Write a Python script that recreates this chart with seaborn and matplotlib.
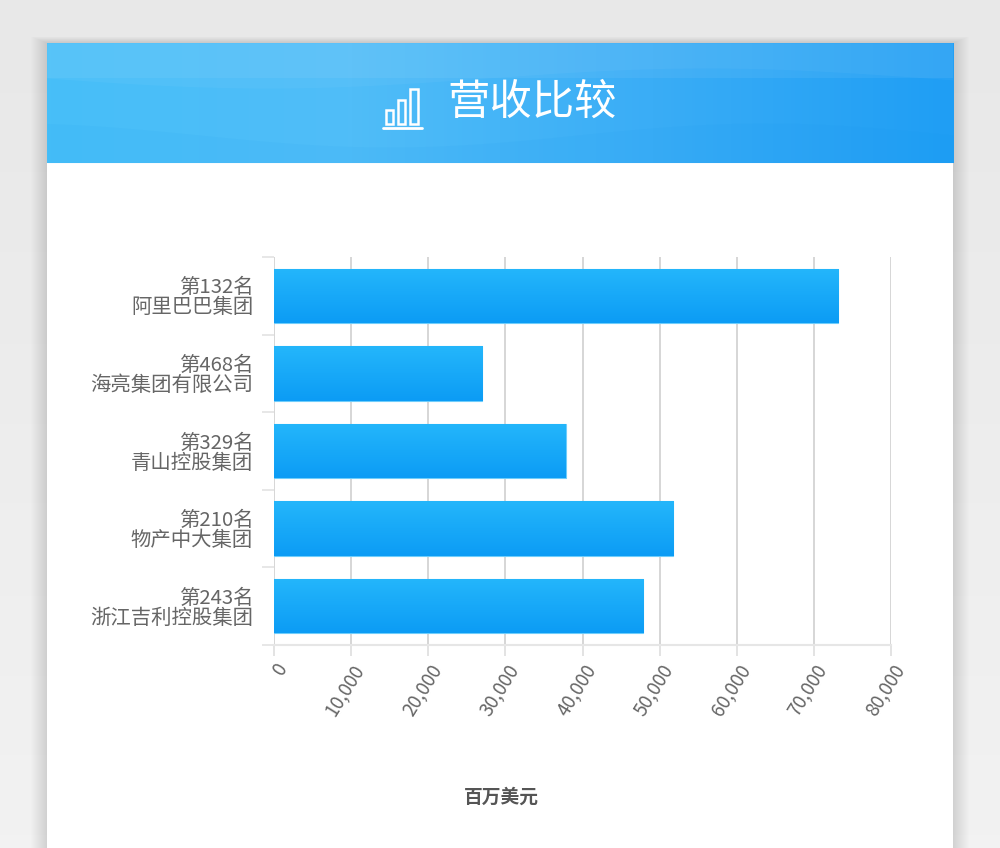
import numpy as np
import pandas as pd
import matplotlib
matplotlib.use("Agg")
import matplotlib.pyplot as plt
from matplotlib.patches import Rectangle
from matplotlib.colors import LinearSegmentedColormap
from matplotlib.ticker import FuncFormatter
import seaborn as sns

# data (revenue, million USD)
ranks = ["第132名", "第468名", "第329名", "第210名", "第243名"]
companies = ["阿里巴巴集团", "海亮集团有限公司", "青山控股集团", "物产中大集团", "浙江吉利控股集团"]
revenue = [73166, 27000, 37800, 51760, 47886]
x_ticks = [0, 10000, 20000, 30000, 40000, 50000, 60000, 70000, 80000]

title = "营收比较"
unit = "百万美元"

labels = [r + "\n" + c for r, c in zip(ranks, companies)]
df = pd.DataFrame({"label": labels, "revenue": revenue})

sns.set_theme(style="white")
plt.rcParams["font.family"] = ["Noto Sans CJK SC", "DejaVu Sans"]

W, H = 1000, 848
fig = plt.figure(figsize=(W / 100, H / 100), dpi=100)
fig.patch.set_facecolor("#f0f0f0")

# background: grey page, shadowed white card
bg = fig.add_axes([0, 0, 1, 1], zorder=-10)
bg.set_xlim(0, W)
bg.set_ylim(H, 0)
bg.axis("off")
bg.imshow(np.linspace(0, 1, 64).reshape(-1, 1),
          cmap=LinearSegmentedColormap.from_list("pg", ["#e8e8e8", "#f2f2f2"]),
          extent=(0, W, H, 0), aspect="auto")
for k in range(16, 0, -1):
    bg.add_patch(Rectangle((47 - k, 43 - k * 0.4), 906 + 2 * k, H, color="#000000",
                           alpha=0.006, lw=0))
bg.add_patch(Rectangle((47, 43), 906, H, color="white", lw=0))
bg.set_xlim(0, W)
bg.set_ylim(H, 0)

# header band with gradient and soft waves
hd = fig.add_axes([47 / W, 1 - 163 / H, 906 / W, 120 / H], zorder=-5)
hd.set_xlim(47, 953)
hd.set_ylim(163, 43)
hd.axis("off")
hcmap = LinearSegmentedColormap.from_list("hdr", ["#47bff8", "#50bdf8", "#3aadf6", "#1f9ef4"])
grad = np.linspace(0, 1, 256).reshape(1, -1)
hd.imshow(grad, cmap=hcmap, extent=(47, 953, 163, 43), aspect="auto", zorder=0)
wx = np.linspace(47, 953, 300)
hd.fill_between(wx, 43, 78, color="white", alpha=0.06, lw=0, zorder=1)
hd.fill_between(wx, 78 + 10 * np.sin((wx - 47) / 140), 43, color="white", alpha=0.04, lw=0, zorder=1)
hd.fill_between(wx, 163, 135 + 12 * np.sin((wx - 200) / 120), color="#0b8fe8", alpha=0.06, lw=0, zorder=1)
hd.text(532, 103, title, color="white", fontsize=30.5, ha="center", va="center", zorder=3)
# little bar-chart icon
ic = dict(fill=False, ec="white", lw=1.8, zorder=3)
hd.add_patch(Rectangle((386, 110), 7, 14, **ic))
hd.add_patch(Rectangle((398, 100), 7, 24, **ic))
hd.add_patch(Rectangle((410, 89), 8, 35, **ic))
hd.plot([383, 422], [128, 128], color="white", lw=2, zorder=3)

# main bar chart
ax = fig.add_axes([274 / W, 1 - 645 / H, 617 / W, 388 / H])
sns.barplot(data=df, x="revenue", y="label", orient="h", width=0.7,
            color="#14a5f7", edgecolor="#6fcdfb", linewidth=0.8, ax=ax)

# vertical gradient inside each bar
bcmap = LinearSegmentedColormap.from_list("bar", ["#24b6fb", "#0c9cf5"])
vgrad = np.linspace(0, 1, 64).reshape(-1, 1)
for p in ax.patches:
    x0, y0 = p.get_x(), p.get_y()
    im = ax.imshow(vgrad, cmap=bcmap, aspect="auto", zorder=2.5,
                   extent=(x0, x0 + p.get_width(), y0 + p.get_height(), y0), origin="upper")
    im.set_clip_path(p)

ax.set_xlim(0, 80000)
ax.set_ylim(len(labels) - 0.5, -0.5)
ax.set_xticks(x_ticks)
ax.xaxis.set_major_formatter(FuncFormatter(lambda v, _: f"{int(v):,}"))
ax.grid(axis="x", color="#cfcfcf", lw=1.2, zorder=0)
ax.set_axisbelow(True)
for s in ["top", "right", "left"]:
    ax.spines[s].set_visible(False)
ax.spines["bottom"].set_color("#e6e6e6")
ax.spines["bottom"].set_linewidth(1.5)
ax.tick_params(axis="x", length=8, width=1.2, color="#dedede", pad=3,
               labelsize=13.5, labelcolor="#666666", bottom=True)
plt.setp(ax.get_xticklabels(), rotation=58, ha="right", rotation_mode="anchor")
ax.tick_params(axis="y", length=0, pad=15, labelsize=14.7, labelcolor="#666666")
for t in ax.get_yticklabels():
    t.set_linespacing(0.95)
ax.set_yticks(np.arange(-0.5, len(labels)), minor=True)
ax.tick_params(axis="y", which="minor", left=True, length=9, width=1.2, color="#e3e3e3")
ax.set_xlabel("")
ax.set_ylabel("")

fig.text(501 / W, 1 - 797 / H, unit, fontsize=13.5, color="#555555",
         fontweight="bold", ha="center", va="center")

fig.savefig("out.png", dpi=100, facecolor=fig.get_facecolor())
